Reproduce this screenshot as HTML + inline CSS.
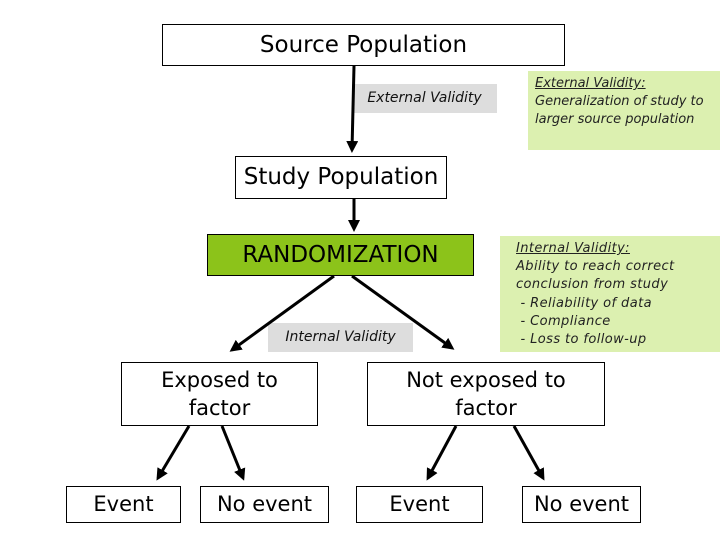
<!DOCTYPE html>
<html><head><style>
body{margin:0;width:720px;height:540px;background:#fff;position:relative;overflow:hidden;font-family:"DejaVu Sans","Liberation Sans",sans-serif;}
.b{position:absolute;box-sizing:border-box;border:1px solid #000;background:#fff;text-align:center;color:#000;}
.g{position:absolute;background:#ddd;font-style:italic;font-size:14px;text-align:center;color:#111;}
.n{position:absolute;background:#dcf0b0;font-style:italic;font-size:13px;color:#222;line-height:18px;padding:4px 8px;box-sizing:border-box;}
svg{position:absolute;left:0;top:0;}
</style></head><body>
<div class="b" style="left:162px;top:24px;width:403px;height:42px;font-size:23px;line-height:40px;">Source Population</div>
<div class="g" style="left:352px;top:84px;width:145px;height:29px;line-height:29px;">External Validity</div>
<div class="n" style="left:528px;top:71px;width:192px;height:79px;padding-left:7px;"><u>External Validity:</u><br>Generalization of study to larger source population</div>
<div class="b" style="left:235px;top:156px;width:212px;height:43px;font-size:23px;line-height:41px;">Study Population</div>
<div class="b" style="left:207px;top:234px;width:267px;height:42px;font-size:23px;line-height:40px;background:#8cc31a;">RANDOMIZATION</div>
<div class="n" style="left:500px;top:236px;width:220px;height:116px;line-height:18.2px;padding-left:16px;letter-spacing:0.4px;"><u>Internal Validity:</u><br>Ability to reach correct conclusion from study<br>&nbsp;- Reliability of data<br>&nbsp;- Compliance<br>&nbsp;- Loss to follow-up</div>
<div class="g" style="left:268px;top:323px;width:145px;height:29px;line-height:29px;">Internal Validity</div>
<div class="b" style="left:121px;top:362px;width:197px;height:64px;font-size:21px;line-height:28px;padding-top:3px;">Exposed to<br>factor</div>
<div class="b" style="left:367px;top:362px;width:238px;height:64px;font-size:21px;line-height:28px;padding-top:3px;">Not exposed to<br>factor</div>
<div class="b" style="left:66px;top:486px;width:115px;height:37px;font-size:21px;line-height:35px;">Event</div>
<div class="b" style="left:200px;top:486px;width:129px;height:37px;font-size:21px;line-height:35px;">No event</div>
<div class="b" style="left:356px;top:486px;width:127px;height:37px;font-size:21px;line-height:35px;">Event</div>
<div class="b" style="left:522px;top:486px;width:119px;height:37px;font-size:21px;line-height:35px;">No event</div>
<svg width="720" height="540"><defs><marker id="a" markerWidth="4" markerHeight="4" refX="3" refY="2" orient="auto"><path d="M0,0L4,2L0,4z" fill="#000"/></marker></defs>
<g stroke="#000" stroke-width="3" marker-end="url(#a)" fill="none">
<line x1="354" y1="66" x2="352" y2="150"/>
<line x1="354" y1="199" x2="354" y2="229"/>
<line x1="334" y1="276" x2="232" y2="350"/>
<line x1="352" y1="276" x2="452" y2="348"/>
<line x1="189" y1="426" x2="158" y2="478"/>
<line x1="222" y1="426" x2="243" y2="478"/>
<line x1="456" y1="426" x2="428" y2="478"/>
<line x1="514" y1="426" x2="543" y2="478"/>
</g></svg>
</body></html>
